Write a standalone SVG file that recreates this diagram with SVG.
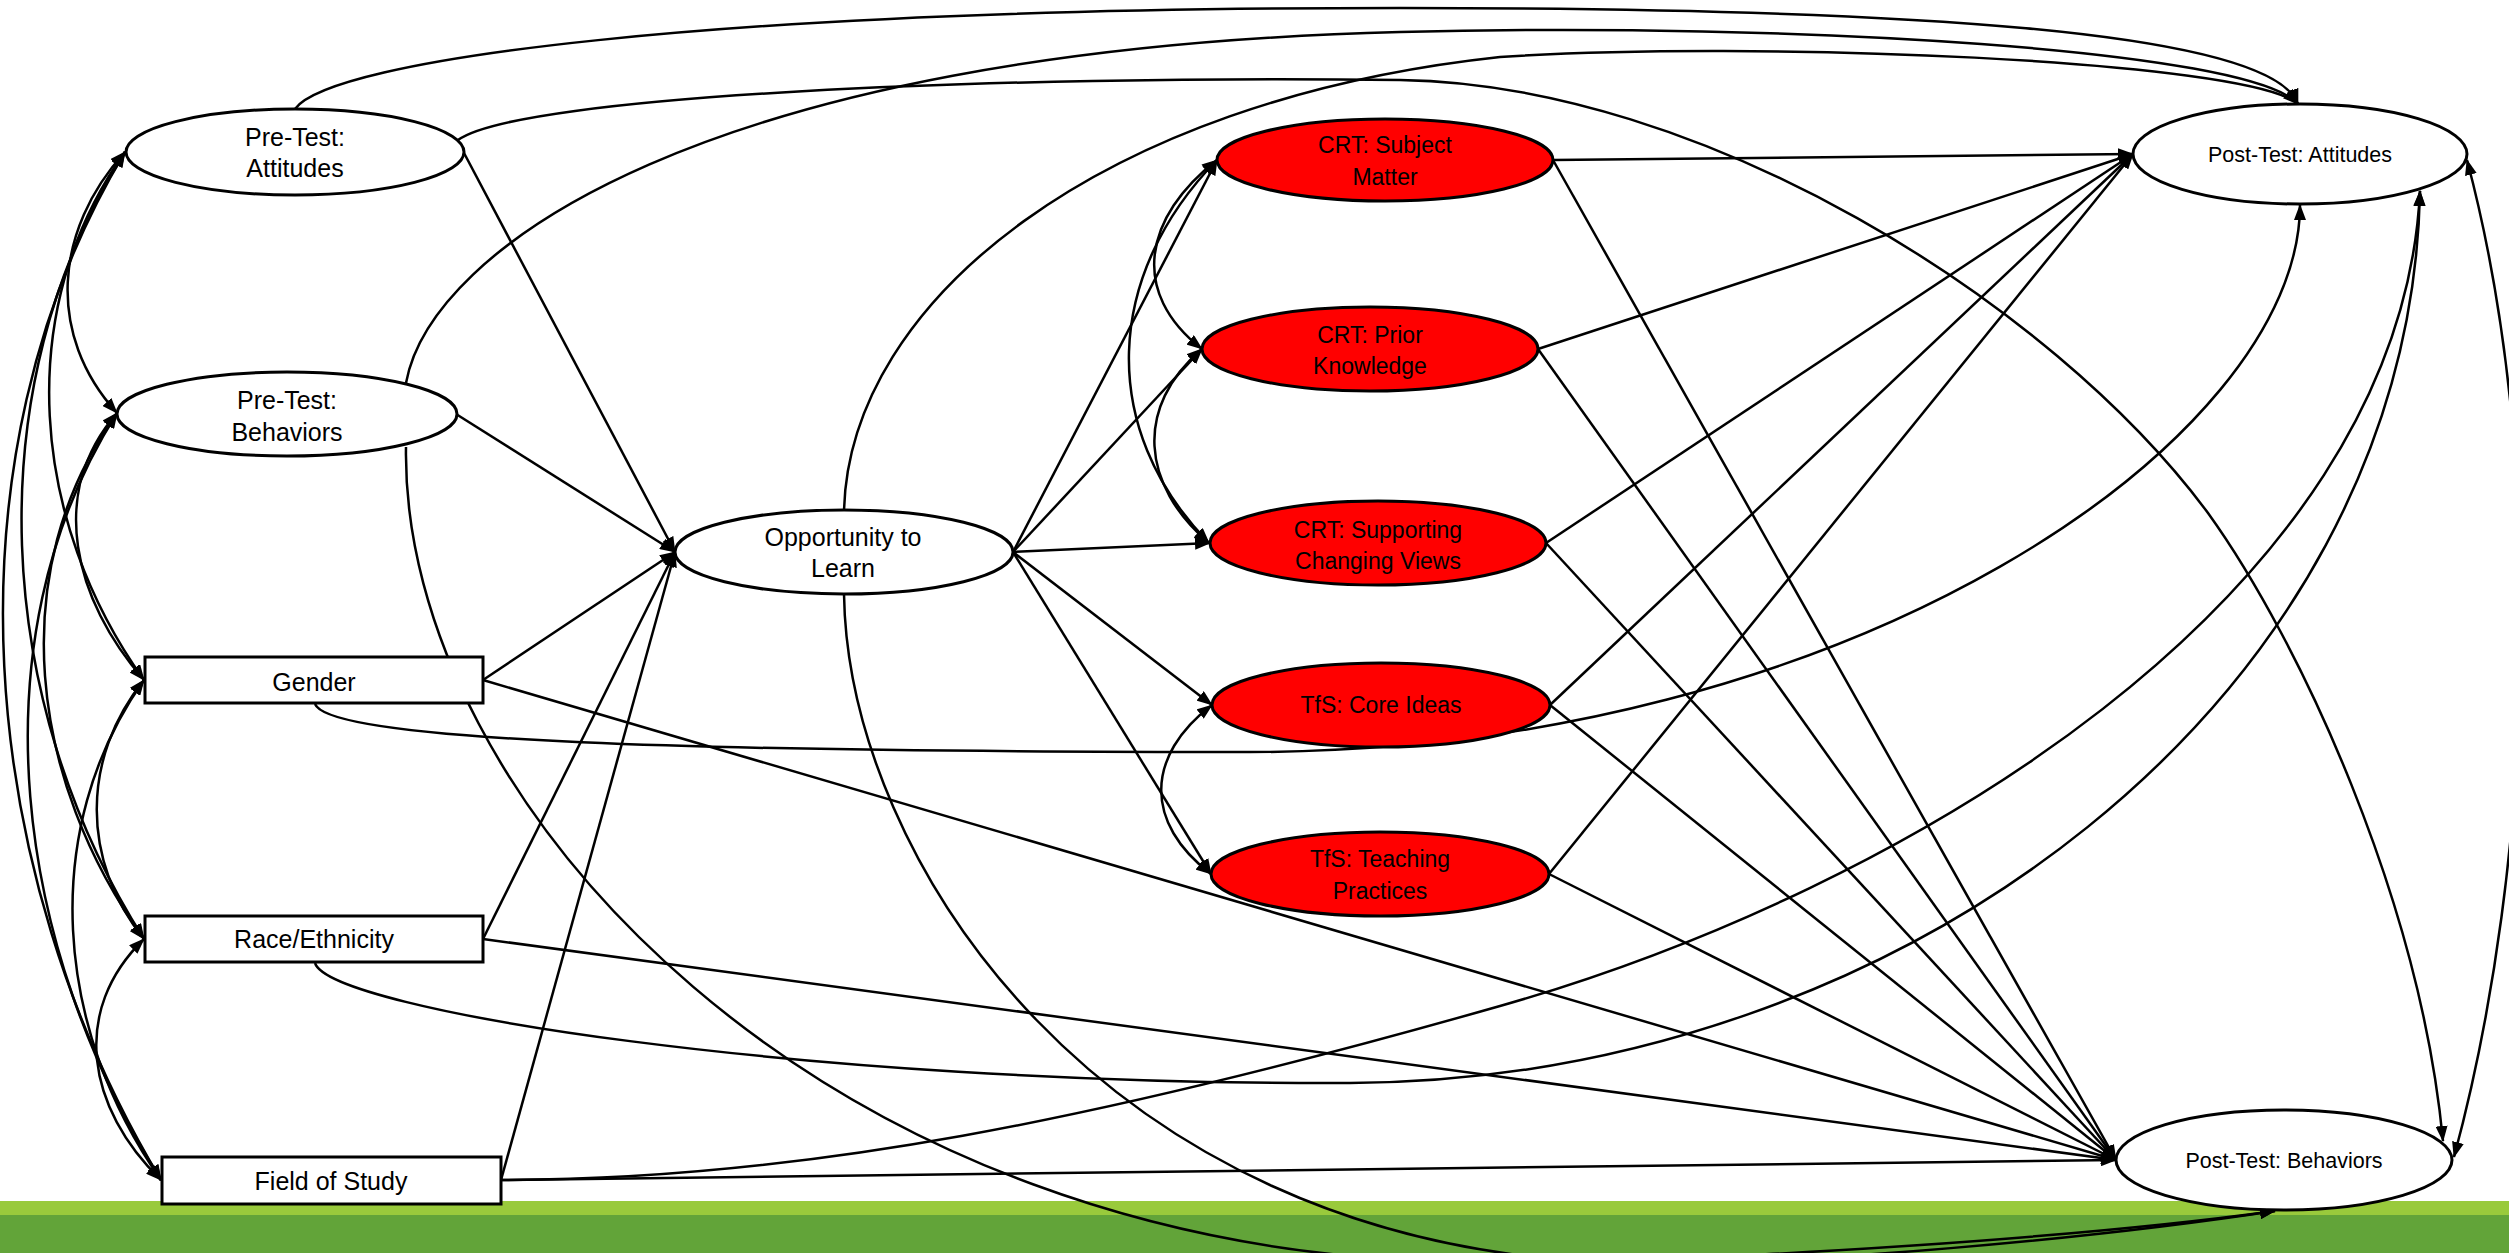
<svg xmlns="http://www.w3.org/2000/svg" width="2509" height="1253" viewBox="0 0 2509 1253">
<defs>
<marker id="ah" viewBox="0 0 16 12" refX="15" refY="6" markerWidth="16" markerHeight="12" markerUnits="userSpaceOnUse" orient="auto-start-reverse"><path d="M0,0 L16,6 L0,12 z" fill="#000"/></marker>
<style>
.n{fill:#fff;stroke:#000;stroke-width:3}
.r{fill:#ff0000;stroke:#000;stroke-width:3}
.t{font-family:"Liberation Sans",Arial,sans-serif;fill:#000;text-anchor:middle}
.c{fill:none;stroke:#000;stroke-width:2.5}
.d{marker-end:url(#ah)}
.b{marker-start:url(#ah);marker-end:url(#ah)}
</style>
</defs>
<rect x="0" y="1201" width="2509" height="14" fill="#99ca3c"/>
<rect x="0" y="1215" width="2509" height="38" fill="#62a439"/>
<g id="connectors">
<path class="c d" d="M464,153 L675,552"/>
<path class="c d" d="M456,414 L675,552"/>
<path class="c d" d="M483,680 L675,552"/>
<path class="c d" d="M483,939 L675,552"/>
<path class="c d" d="M501,1180 L675,552"/>
<path class="c d" d="M1013,552 L1217,160"/>
<path class="c d" d="M1013,552 L1202,349"/>
<path class="c d" d="M1013,552 L1210,543"/>
<path class="c d" d="M1013,552 L1212,705"/>
<path class="c d" d="M1013,552 L1211,874"/>
<path class="c d" d="M1553,160 L2133,154"/>
<path class="c d" d="M1538,349 L2133,154"/>
<path class="c d" d="M1546,543 L2133,154"/>
<path class="c d" d="M1550,705 L2133,154"/>
<path class="c d" d="M1549,874 L2133,154"/>
<path class="c d" d="M1553,160 L2116,1160"/>
<path class="c d" d="M1538,349 L2116,1160"/>
<path class="c d" d="M1546,543 L2116,1160"/>
<path class="c d" d="M1550,705 L2116,1160"/>
<path class="c d" d="M1549,874 L2116,1160"/>
<path class="c d" d="M483,680 L2116,1160"/>
<path class="c d" d="M483,939 L2116,1160"/>
<path class="c d" d="M501,1180 L2116,1160"/>
<path class="c d" d="M844,594 C848,860 1100,1240 1600,1262 C1800,1268 2110,1236 2275,1211"/>
<path class="c d" d="M406,447 C400,800 820,1262 1480,1262 C1750,1262 2100,1235 2275,1211"/>
<path class="c d" d="M844,510 C850,300 1100,100 1500,57 C1750,40 2250,60 2298,104"/>
<path class="c d" d="M295,109 C330,60 700,8 1400,8 C1900,8 2270,30 2298,104"/>
<path class="c d" d="M406,383 C430,250 700,50 1400,32 C1800,22 2250,50 2298,104"/>
<path class="c d" d="M458,140 C520,95 1000,75 1400,80 C1700,84 2050,300 2208,513 C2300,641 2420,900 2443,1141"/>
<path class="c d" d="M315,704 C330,742 700,752 1250,752 C1850,752 2300,440 2300,205"/>
<path class="c d" d="M315,963 C330,1010 800,1085 1350,1083 C1900,1081 2410,700 2420,191"/>
<path class="c d" d="M501,1180 C800,1180 1100,1120 1500,1006 C1900,892 2400,600 2420,191"/>
<path class="c b" d="M125,152 C54,230 46,335 117,413"/>
<path class="c b" d="M125,152 C12,310 31,522 144,680"/>
<path class="c b" d="M125,152 C-25,388 -6,703 144,939"/>
<path class="c b" d="M125,152 C-60,460 -24,872 161,1180"/>
<path class="c b" d="M117,413 C47,493 74,600 144,680"/>
<path class="c b" d="M117,413 C3,571 30,781 144,939"/>
<path class="c b" d="M117,413 C-28,643 16,950 161,1180"/>
<path class="c b" d="M144,680 C81,758 81,861 144,939"/>
<path class="c b" d="M144,680 C38,830 55,1030 161,1180"/>
<path class="c b" d="M144,939 C70,1011 87,1108 161,1180"/>
<path class="c b" d="M1217,160 C1144,217 1129,292 1202,349"/>
<path class="c b" d="M1217,160 C1105,275 1097,428 1209,543"/>
<path class="c b" d="M1202,349 C1134,407 1141,485 1209,543"/>
<path class="c b" d="M1212,705 C1145,756 1144,823 1211,874"/>
<path class="c b" d="M2467,160 C2547,460 2535,858 2454,1157"/>
</g>
<g id="pre-attitudes"><ellipse class="n" cx="295" cy="152" rx="169" ry="43"/><text class="t" x="295" y="146" font-size="25">Pre-Test:</text><text class="t" x="295" y="177" font-size="25">Attitudes</text></g>
<g id="pre-behaviors"><ellipse class="n" cx="287" cy="414" rx="170" ry="42"/><text class="t" x="287" y="409" font-size="25">Pre-Test:</text><text class="t" x="287" y="441" font-size="25">Behaviors</text></g>
<g id="gender"><rect class="n" x="145" y="657" width="338" height="46"/><text class="t" x="314" y="691" font-size="25">Gender</text></g>
<g id="race"><rect class="n" x="145" y="916" width="338" height="46"/><text class="t" x="314" y="948" font-size="25">Race/Ethnicity</text></g>
<g id="field"><rect class="n" x="162" y="1157" width="339" height="47"/><text class="t" x="331" y="1190" font-size="25">Field of Study</text></g>
<g id="otl"><ellipse class="n" cx="844" cy="552" rx="169" ry="42"/><text class="t" x="843" y="546" font-size="25">Opportunity to</text><text class="t" x="843" y="577" font-size="25">Learn</text></g>
<g id="crt-subject"><ellipse class="r" cx="1385" cy="160" rx="168" ry="41"/><text class="t" x="1385" y="153" font-size="23">CRT: Subject</text><text class="t" x="1385" y="185" font-size="23">Matter</text></g>
<g id="crt-prior"><ellipse class="r" cx="1370" cy="349" rx="168" ry="42"/><text class="t" x="1370" y="343" font-size="23">CRT: Prior</text><text class="t" x="1370" y="374" font-size="23">Knowledge</text></g>
<g id="crt-supporting"><ellipse class="r" cx="1378" cy="543" rx="168" ry="42"/><text class="t" x="1378" y="538" font-size="23">CRT: Supporting</text><text class="t" x="1378" y="569" font-size="23">Changing Views</text></g>
<g id="tfs-core"><ellipse class="r" cx="1381" cy="705" rx="169" ry="42"/><text class="t" x="1381" y="713" font-size="23">TfS: Core Ideas</text></g>
<g id="tfs-teaching"><ellipse class="r" cx="1380" cy="874" rx="169" ry="42"/><text class="t" x="1380" y="867" font-size="23">TfS: Teaching</text><text class="t" x="1380" y="899" font-size="23">Practices</text></g>
<g id="post-attitudes"><ellipse class="n" cx="2300" cy="154" rx="167" ry="50"/><text class="t" x="2300" y="162" font-size="21.5">Post-Test: Attitudes</text></g>
<g id="post-behaviors"><ellipse class="n" cx="2284" cy="1160" rx="168" ry="50"/><text class="t" x="2284" y="1168" font-size="21.5">Post-Test: Behaviors</text></g>
</svg>
